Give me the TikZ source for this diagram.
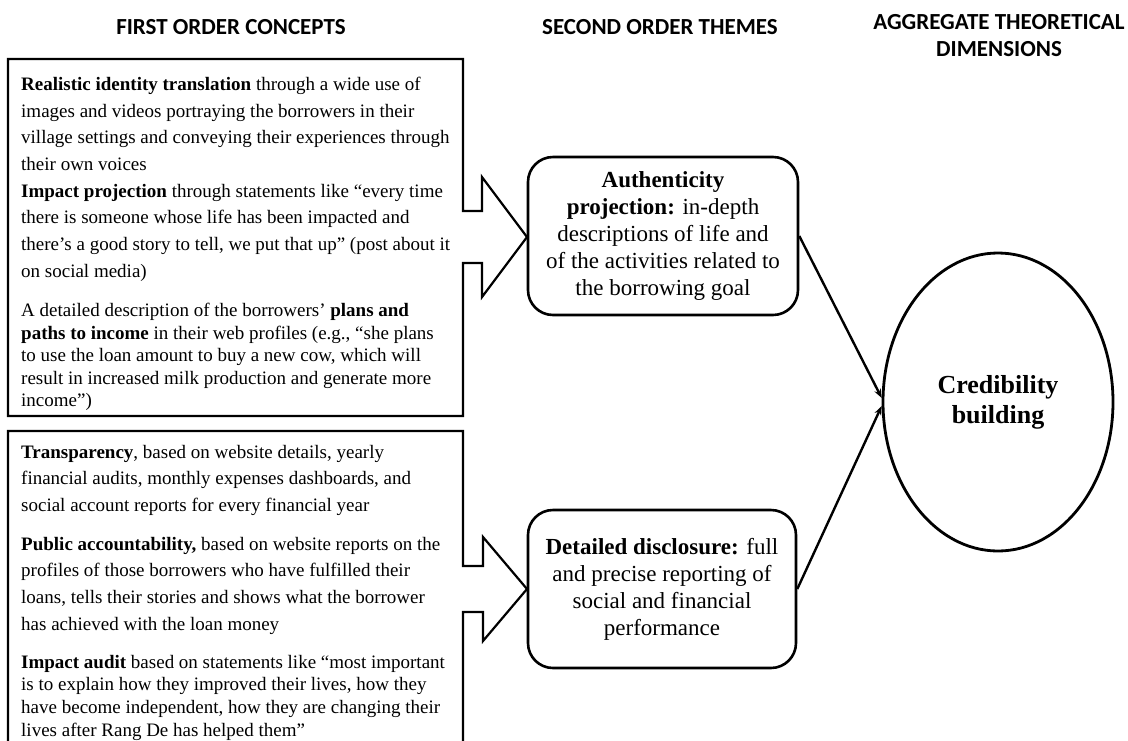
\documentclass[tikz,border=0pt]{standalone}
\usepackage{fontspec}
\setmainfont{Liberation Serif}
\newfontfamily\titlefont{Carlito}
\usetikzlibrary{shapes.geometric,arrows.meta}
\begin{document}
\begin{tikzpicture}[x=1pt,y=-1pt,
  title/.style={font=\titlefont\bfseries\fontsize{23}{27}\selectfont, align=center, inner sep=0},
  para/.style={anchor=north west, inner sep=0, align=left},
  paraA/.style={para, font=\fontsize{19}{26.6}\selectfont},
  paraB/.style={para, font=\fontsize{19}{22.6}\selectfont},
  callout/.style={draw, line width=2.2pt, line join=miter},
  theme/.style={draw, line width=2.6pt, rounded corners=25pt, align=center, inner sep=0, font=\fontsize{23}{27}\selectfont},
  dim/.style={draw, ellipse, line width=2.8pt, inner sep=0, minimum width=230pt, minimum height=298pt, align=center, font=\bfseries\fontsize{26}{30}\selectfont},
  link/.style={line width=2.4pt, -{Stealth[length=9pt,width=7pt]}}
]
\useasboundingbox (0,0) rectangle (1128,740);

% column titles
\node[title] (t1) at (231,27) {FIRST ORDER CONCEPTS};
\node[title] (t2) at (660,27) {SECOND ORDER THEMES};
\node[title] (t3) at (999,36) {AGGREGATE THEORETICAL\\DIMENSIONS};

% callout boxes (first order concepts)
\draw[callout] (8,59) -- (463,59) -- (463,211) -- (482,211) -- (482,177) -- (527,237)
  -- (482,297) -- (482,263) -- (463,263) -- (463,416) -- (8,416) -- cycle;
\draw[callout] (8,431) -- (463,431) -- (463,566) -- (483,566) -- (483,537) -- (527,589)
  -- (483,641) -- (483,612) -- (463,612) -- (463,760) -- (8,760) -- cycle;

% box 1 texts
\node[paraA] (p11) at (21,77) {\textbf{Realistic identity translation} through a wide use of\\
images and videos portraying the borrowers in their\\
village settings and conveying their experiences through\\
their own voices};
\node[paraA] (p12) at (21,184) {\textbf{Impact projection} through statements like “every time\\
there is someone whose life has been impacted and\\
there’s a good story to tell, we put that up” (post about it\\
on social media)};
\node[paraB] (p13) at (21,303) {A detailed description of the borrowers’ \textbf{plans and}\\
\textbf{paths to income} in their web profiles (e.g., “she plans\\
to use the loan amount to buy a new cow, which will\\
result in increased milk production and generate more\\
income”)};

% box 2 texts
\node[paraA] (p21) at (21,445) {\textbf{Transparency}, based on website details, yearly\\
financial audits, monthly expenses dashboards, and\\
social account reports for every financial year};
\node[paraA] (p22) at (21,537) {\textbf{Public accountability,} based on website reports on the\\
profiles of those borrowers who have fulfilled their\\
loans, tells their stories and shows what the borrower\\
has achieved with the loan money};
\node[paraB] (p23) at (21,655) {\textbf{Impact audit} based on statements like “most important\\
is to explain how they improved their lives, how they\\
have become independent, how they are changing their\\
lives after Rang De has helped them”};

% second order themes
\node[theme, minimum width=270pt, minimum height=158pt] (auth) at (663,236)
  {\textbf{Authenticity}\\\textbf{projection:} in-depth\\descriptions of life and\\of the activities related to\\the borrowing goal};
\node[theme, minimum width=268pt, minimum height=158pt] (disc) at (662,589)
  {\textbf{Detailed disclosure:} full\\and precise reporting of\\social and financial\\performance};

% aggregate dimension
\node[dim] (cred) at (998,402) {Credibility\\building};

% connectors
\draw[link] (auth.east) -- (cred.178);
\draw[link] (disc.east) -- (cred.182);
\end{tikzpicture}
\end{document}
